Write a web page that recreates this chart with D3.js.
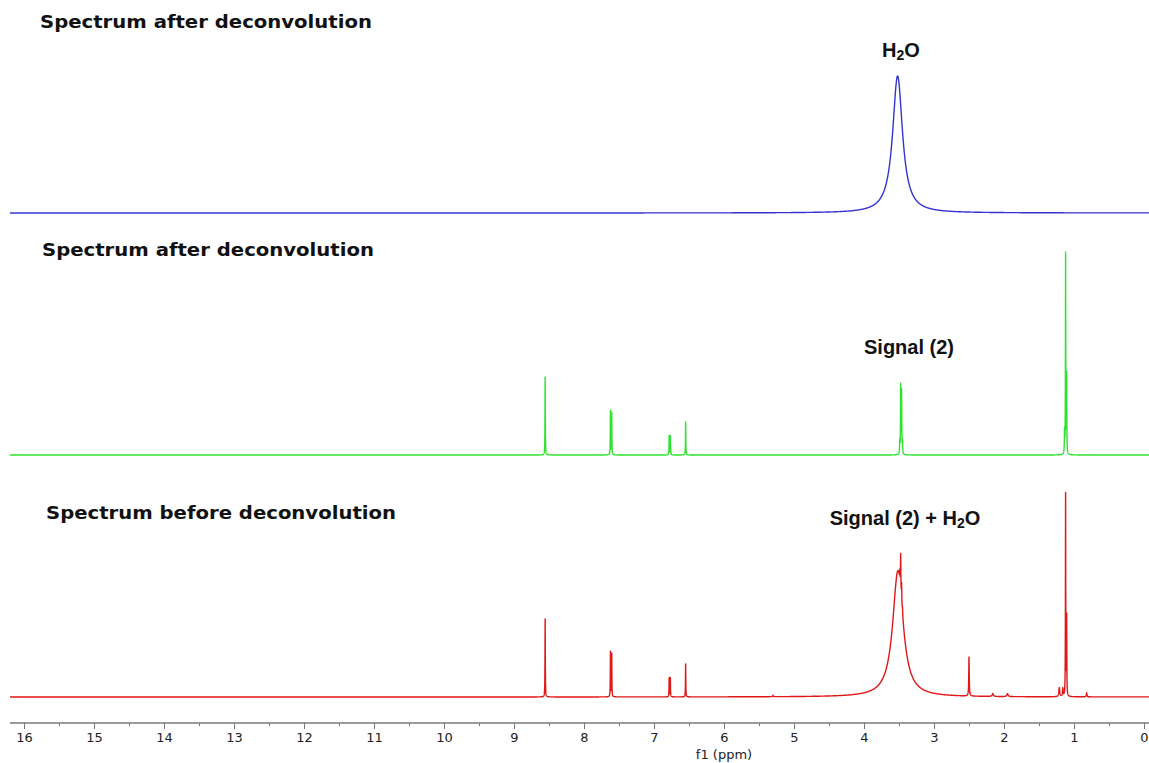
<!DOCTYPE html>
<html>
<head>
  <meta charset="utf-8">
  <title>1H NMR spectra</title>
  <script src="https://d3js.org/d3.v7.min.js"></script>
  <style>
    body { margin: 0; background: #fff; }
    .title { font-family: "DejaVu Sans", Verdana, sans-serif; font-weight: bold; font-size: 17px; fill: #111; }
    .peak-label { font-family: "Liberation Sans", Arial, sans-serif; font-weight: bold; font-size: 20px; fill: #111; }
    .axis text { font-family: "DejaVu Sans", Verdana, sans-serif; font-size: 13px; fill: #222; }
    .axis line { stroke: #777; }
  </style>
</head>
<body>
<script>
// axis ticks (ppm)
var majorTicks = d3.range(0, 17);
var minorTicks = d3.range(0.5, 16, 1);

// peaks: shift (ppm), height (a.u.), line width (ppm, FWHM)
// top: water only, after deconvolution
var blueShifts  = [3.52];
var blueHeights = [68.5];
var blueWidths  = [0.17];

// middle: signal (2) after deconvolution
var greenShifts  = [8.555, 7.622, 7.604, 6.783, 6.767, 6.548, 3.489, 3.476, 3.463, 3.450, 1.135, 1.120, 1.105];
var greenHeights = [39,    22,    21,    9.5,   9.5,   16.5,  6,     34,    31,    6,     11,    100,   39];
var greenWidths  = [0.005, 0.005, 0.005, 0.005, 0.005, 0.005, 0.006, 0.006, 0.006, 0.006, 0.006, 0.005, 0.005];

// bottom: raw spectrum, signal (2) + water
var redShifts  = [8.555, 7.622, 7.604, 6.783, 6.767, 6.548, 5.30, 3.515, 3.488, 3.476, 3.463, 3.450, 2.500, 2.160, 1.950, 1.210, 1.160, 1.120, 1.105, 0.820];
var redHeights = [39,    22.5,  21.5,  9.5,   9.5,   16.5,  0.8,  63,    5,     18,    9,     3,     19.5,  1.5,   1.5,   4.5,   4,     101,   39,    2];
var redWidths  = [0.005, 0.005, 0.005, 0.005, 0.005, 0.005, 0.01, 0.18,  0.006, 0.006, 0.006, 0.006, 0.008, 0.02,  0.02,  0.015, 0.01,  0.005, 0.005, 0.01];

var width = 1149, height = 763;

var svg = d3.select("body").append("svg")
    .attr("width", width)
    .attr("height", height);

var x = d3.scaleLinear().domain([16, 0]).range([24, 1144]);
var ppmStart = x.invert(10), ppmEnd = x.invert(width);

// panels, top to bottom
var panels = [
  {shifts: blueShifts,  heights: blueHeights,  widths: blueWidths,  color: "#3434d2", base: 213,
   title: "Spectrum after deconvolution",  tx: 40, ty: 28, tw: 332,
   label: ["H", "2", "O"], lx: 901, ly: 57},
  {shifts: greenShifts, heights: greenHeights, widths: greenWidths, color: "#2fe22f", base: 455,
   title: "Spectrum after deconvolution",  tx: 42, ty: 256, tw: 332,
   label: ["Signal (2)"], lx: 909, ly: 354},
  {shifts: redShifts,   heights: redHeights,   widths: redWidths,   color: "#e01818", base: 697,
   title: "Spectrum before deconvolution", tx: 46, ty: 519, tw: 350,
   label: ["Signal (2) + H", "2", "O"], lx: 905, ly: 525}
];

function spectrum(p) {
  var pts = d3.range(ppmEnd, ppmStart, 0.001).concat(p.shifts).sort(d3.ascending);
  return pts.map(function(s) {
    var v = 0;
    for (var i = 0; i < p.shifts.length; i++) {
      var g = p.widths[i] / 2, d = (s - p.shifts[i]) / g;
      v += p.heights[i] / (1 + d * d);
    }
    return [s, v];
  });
}

panels.forEach(function(p) {
  var y = d3.scaleLinear().domain([0, 100]).range([p.base, p.base - 200]);
  var line = d3.line()
      .x(function(d) { return x(d[0]); })
      .y(function(d) { return y(d[1]); });

  svg.append("path")
      .datum(spectrum(p))
      .attr("d", line)
      .attr("fill", "none")
      .attr("stroke", p.color)
      .attr("stroke-width", 1.4)
      .attr("stroke-linejoin", "round");

  svg.append("text")
      .attr("class", "title")
      .attr("x", p.tx)
      .attr("y", p.ty)
      .attr("textLength", p.tw)
      .attr("lengthAdjust", "spacingAndGlyphs")
      .text(p.title);

  var t = svg.append("text")
      .attr("class", "peak-label")
      .attr("x", p.lx)
      .attr("y", p.ly)
      .attr("text-anchor", "middle");
  p.label.forEach(function(s, i) {
    var ts = t.append("tspan").text(s);
    if (i == 1) ts.attr("font-size", "14px").attr("dy", 3);
    if (i == 2) ts.attr("dy", -3);
  });
});

// x axis
var axisY = 723;
svg.append("line")
    .attr("x1", 10).attr("x2", width)
    .attr("y1", axisY).attr("y2", axisY)
    .attr("stroke", "#7a7a7a")
    .attr("stroke-width", 1.6);

var gMajor = svg.append("g")
    .attr("class", "axis")
    .attr("transform", "translate(0," + axisY + ")")
    .call(d3.axisBottom(x).tickValues(majorTicks).tickSize(6).tickPadding(4).tickFormat(d3.format("d")));
gMajor.select(".domain").remove();

var gMinor = svg.append("g")
    .attr("class", "axis")
    .attr("transform", "translate(0," + axisY + ")")
    .call(d3.axisBottom(x).tickValues(minorTicks).tickSize(3).tickFormat(""));
gMinor.select(".domain").remove();

svg.append("text")
    .attr("x", x(6))
    .attr("y", 759)
    .attr("text-anchor", "middle")
    .style("font-family", "DejaVu Sans, Verdana, sans-serif")
    .style("font-size", "13px")
    .style("fill", "#222")
    .text("f1 (ppm)");
</script>
</body>
</html>
